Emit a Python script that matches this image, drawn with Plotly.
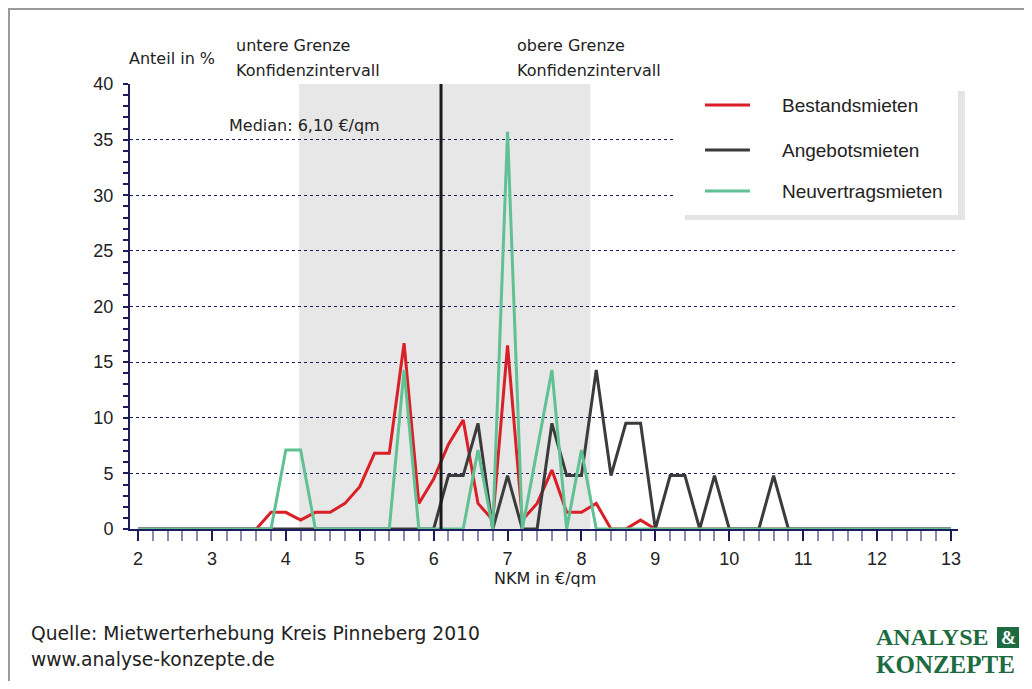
import plotly.graph_objects as go

# NKM classes (EUR/qm), step 0.2
nkm = [2.0, 2.2, 2.4, 2.6, 2.8, 3.0, 3.2, 3.4, 3.6, 3.8,
       4.0, 4.2, 4.4, 4.6, 4.8, 5.0, 5.2, 5.4, 5.6, 5.8,
       6.0, 6.2, 6.4, 6.6, 6.8, 7.0, 7.2, 7.4, 7.6, 7.8,
       8.0, 8.2, 8.4, 8.6, 8.8, 9.0, 9.2, 9.4, 9.6, 9.8,
       10.0, 10.2, 10.4, 10.6, 10.8, 11.0, 11.2, 11.4, 11.6, 11.8,
       12.0, 12.2, 12.4, 12.6, 12.8, 13.0]

bestandsmieten = [0, 0, 0, 0, 0, 0, 0, 0, 0, 1.5,
                  1.5, 0.8, 1.5, 1.5, 2.3, 3.8, 6.8, 6.8, 16.7, 2.3,
                  4.5, 7.6, 9.8, 2.3, 0.8, 16.5, 0.8, 2.3, 5.3, 1.5,
                  1.5, 2.3, 0, 0, 0.8, 0, 0, 0, 0, 0,
                  0, 0, 0, 0, 0, 0, 0, 0, 0, 0,
                  0, 0, 0, 0, 0, 0]

angebotsmieten = [0, 0, 0, 0, 0, 0, 0, 0, 0, 0,
                  0, 0, 0, 0, 0, 0, 0, 0, 0, 0,
                  0, 4.8, 4.8, 9.5, 0, 4.8, 0, 0, 9.5, 4.8,
                  4.8, 14.3, 4.8, 9.5, 9.5, 0, 4.8, 4.8, 0, 4.8,
                  0, 0, 0, 4.8, 0, 0, 0, 0, 0, 0,
                  0, 0, 0, 0, 0, 0]

neuvertragsmieten = [0, 0, 0, 0, 0, 0, 0, 0, 0, 0,
                     7.1, 7.1, 0, 0, 0, 0, 0, 0, 14.3, 0,
                     0, 0, 0, 7.1, 0, 35.7, 0, 7.1, 14.3, 0,
                     7.1, 0, 0, 0, 0, 0, 0, 0, 0, 0,
                     0, 0, 0, 0, 0, 0, 0, 0, 0, 0,
                     0, 0, 0, 0, 0, 0]

series_names = ['Bestandsmieten', 'Angebotsmieten', 'Neuvertragsmieten']
series_colors = ['#da1f26', '#3b3b3b', '#5fc194']

median = 6.10
ki_lower = 4.18
ki_upper = 8.12

# the page has an 8px body margin, so page pixels are shifted by OFF
OFF = 8
W, H = 1032 - OFF, 689 - 2 * OFF
L, R, T, B = 130, 958, 84, 529   # plot area in page pixels
NAVY = '#1c1c5c'
TXT = '#222222'
SANS = 'Liberation Sans, Arial, sans-serif'
WIDE = 'DejaVu Sans, Verdana, sans-serif'


def px(x):
    return (x - L) / (R - L)


def py(y):
    return (B - y) / (B - T)


fig = go.Figure()
for name, vals, col in zip(series_names,
                           [bestandsmieten, angebotsmieten, neuvertragsmieten],
                           series_colors):
    fig.add_trace(go.Scatter(x=nkm, y=vals, mode='lines', name=name,
                             line=dict(color=col, width=3), showlegend=False))

shapes = [
    # frame
    dict(type='rect', xref='paper', yref='paper', x0=px(9), x1=px(1045),
         y0=py(700), y1=py(9), line=dict(color='#9a9a9a', width=2), layer='below'),
    # confidence interval
    dict(type='rect', xref='x', yref='y', x0=ki_lower, x1=ki_upper, y0=0, y1=40,
         fillcolor='#e6e7e6', line=dict(width=0), layer='below'),
    # median
    dict(type='line', xref='x', yref='y', x0=median, x1=median, y0=0, y1=40,
         line=dict(color='#1a1a1a', width=3), layer='above'),
    # legend box with shadow
    dict(type='rect', xref='paper', yref='paper', x0=px(685), x1=px(965),
         y0=py(220), y1=py(91), fillcolor='#e4e4e4', line=dict(width=0), layer='above'),
    dict(type='rect', xref='paper', yref='paper', x0=px(676), x1=px(958),
         y0=py(215), y1=py(86), fillcolor='white', line=dict(width=0), layer='above'),
    # logo box
    dict(type='rect', xref='paper', yref='paper', x0=px(997), x1=px(1019),
         y0=py(648), y1=py(627), fillcolor='#1d6b40', line=dict(width=0), layer='above'),
]

annotations = []


def note(x, y, text, size=16, xanchor='left', color=TXT, family=WIDE):
    annotations.append(dict(x=px(x), y=py(y), text=text, xanchor=xanchor, yanchor='middle',
                            xref='paper', yref='paper', showarrow=False,
                            font=dict(size=size, color=color, family=family)))


for name, col, yy in zip(series_names, series_colors, [105, 150, 191]):
    shapes.append(dict(type='line', xref='paper', yref='paper', x0=px(705), x1=px(750),
                       y0=py(yy), y1=py(yy), line=dict(color=col, width=3), layer='above'))
    note(780, yy, name, size=19, family=SANS)

note(127, 58, 'Anteil in %')
note(234, 45, 'untere Grenze')
note(234, 70, 'Konfidenzintervall')
note(515, 45, 'obere Grenze')
note(515, 70, 'Konfidenzintervall')
note(227, 126, 'Median: 6,10 €/qm')
note(545, 578, 'NKM in €/qm', xanchor='center')
note(29, 633, 'Quelle: Mietwerterhebung Kreis Pinneberg 2010', size=18.7)
note(29, 659, 'www.analyse-konzepte.de', size=18.7)
logo_font = 'Liberation Serif, Times New Roman, serif'
note(874, 637, '<b>ANALYSE</b>', size=24, color='#1d6b40', family=logo_font)
note(874, 664, '<b>KONZEPTE</b>', size=25, color='#1d6b40', family=logo_font)
note(1008, 638, '<b>&amp;</b>', size=18, color='white', family=logo_font, xanchor='center')

fig.update_layout(
    width=W, height=H,
    margin=dict(l=L - OFF, r=W - (R - OFF), t=T - OFF, b=H - (B - OFF)),
    paper_bgcolor='white', plot_bgcolor='white',
    font=dict(family=SANS, size=17, color=TXT),
    shapes=shapes, annotations=annotations,
    showlegend=False,
)
fig.update_xaxes(
    range=[2 - 8 / 73.9, 13 + 7 / 73.9],
    tick0=2, dtick=1, ticks='outside', ticklen=10, tickwidth=2, tickcolor=NAVY,
    minor=dict(tick0=2, dtick=0.2, ticks='outside', ticklen=10, tickwidth=2,
               tickcolor='#8a8aae', showgrid=False),
    showline=True, linecolor=NAVY, linewidth=2,
    showgrid=False, zeroline=False, ticklabelstandoff=2,
    tickfont=dict(size=18, color=TXT),
)
fig.update_yaxes(
    range=[0, 40],
    tick0=0, dtick=5, ticks='outside', ticklen=5, tickwidth=2, tickcolor=NAVY,
    minor=dict(tick0=0, dtick=1, ticks='outside', ticklen=5, tickwidth=2,
               tickcolor=NAVY, showgrid=False),
    showline=True, linecolor=NAVY, linewidth=2,
    showgrid=True, gridcolor=NAVY, gridwidth=1, griddash='dot',
    zeroline=False, ticklabelstandoff=6,
    tickfont=dict(size=18, color=TXT),
)

fig.write_html('out.html')
